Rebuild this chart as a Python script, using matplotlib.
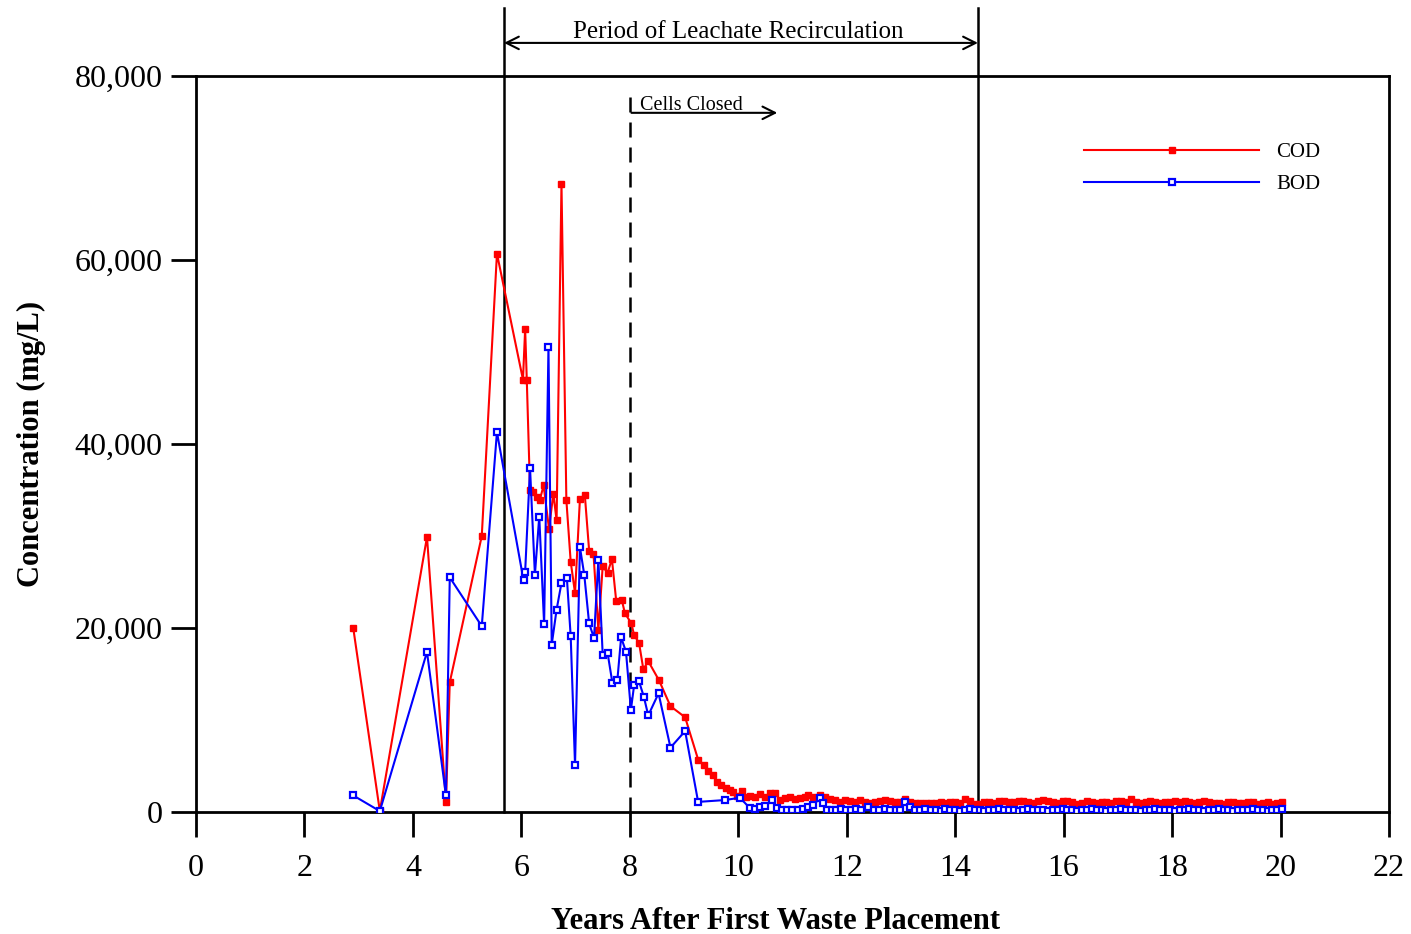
import matplotlib
matplotlib.use("Agg")
import matplotlib.pyplot as plt
from matplotlib.ticker import FuncFormatter

plt.rcParams['font.family'] = ['Liberation Serif', 'DejaVu Serif']

# ---------------- data ----------------
cod_years = [2.90, 3.39, 4.26, 4.61, 4.68, 5.27, 5.55, 6.03, 6.07, 6.10, 6.16, 6.22, 6.28, 6.34,
             6.41, 6.51, 6.59, 6.65, 6.74, 6.83, 6.91, 6.99, 7.08, 7.17, 7.25, 7.33, 7.42, 7.50,
             7.59, 7.67, 7.75, 7.85, 7.91, 8.03, 8.08, 8.17, 8.25, 8.34, 8.54, 8.75, 9.02, 9.26,
             9.36, 9.45, 9.53, 9.60, 9.69, 9.78, 9.84, 9.90, 9.98, 10.06, 10.15, 10.22, 10.31,
             10.40, 10.49, 10.58, 10.68, 10.77, 10.86, 10.95, 11.05, 11.14, 11.23, 11.29, 11.38,
             11.51, 11.60, 11.69, 11.78, 11.88, 11.97, 12.06, 12.15, 12.24, 12.34, 12.43, 12.52,
             12.61, 12.70, 12.80, 12.89, 12.98, 13.07, 13.17, 13.26, 13.35, 13.47,
             13.55, 13.64, 13.73, 13.82, 13.91, 14.00, 14.09, 14.18, 14.27, 14.36,
             14.45, 14.54, 14.63, 14.72, 14.81, 14.90, 14.99, 15.08, 15.17, 15.26,
             15.35, 15.44, 15.53, 15.62, 15.71, 15.80, 15.89, 15.98, 16.07, 16.16,
             16.25, 16.34, 16.43, 16.52, 16.61, 16.70, 16.79, 16.88, 16.97, 17.06,
             17.15, 17.24, 17.33, 17.42, 17.51, 17.60, 17.69, 17.78, 17.87, 17.96,
             18.05, 18.14, 18.23, 18.32, 18.41, 18.50, 18.59, 18.68, 18.77, 18.86,
             18.95, 19.04, 19.13, 19.22, 19.31, 19.40, 19.49, 19.58, 19.67, 19.76,
             19.85, 19.94, 20.02]
cod_values = [20000, 100, 29900, 1100, 14100, 30000, 60700, 47000, 52500, 47000, 35000, 34800,
              34200, 33900, 35500, 30800, 34600, 31700, 68300, 33900, 27200, 23800, 34000,
              34500, 28400, 28100, 19800, 26700, 26000, 27500, 22900, 23100, 21600, 20500,
              19200, 18400, 15500, 16400, 14300, 11500, 10300, 5700, 5100, 4500, 4000, 3300,
              2900, 2600, 2400, 2200, 1700, 2300, 1600, 1700, 1600, 2000, 1600, 2100, 2050,
              1300, 1500, 1650, 1400, 1500, 1600, 1850, 1650, 1850, 1600, 1400, 1300, 1100,
              1300, 1250, 1100, 1300, 1100, 950, 1100, 1250, 1300, 1250, 1100, 1100, 1450,
              1100, 1000, 950, 1000,
              1000, 950, 1050, 1000, 1100, 1050, 1000, 1400, 1150, 900,
              850, 1050, 1100, 1000, 1150, 1200, 1100, 1050, 1150, 1250,
              1100, 1000, 1200, 1300, 1150, 1100, 1000, 1200, 1250, 1100,
              900, 1000, 1150, 1050, 950, 1100, 1050, 1000, 1150, 1200,
              1050, 1450, 1100, 1000, 1050, 1150, 1100, 1000, 1050, 1100,
              1150, 1050, 1200, 1100, 1000, 1050, 1150, 1100, 950, 1000,
              900, 1050, 1100, 950, 1000, 1100, 1050, 900, 950, 1050,
              900, 1000, 1100]

bod_years = [2.90, 3.39, 4.26, 4.61, 4.68, 5.27, 5.55, 6.04, 6.07, 6.16, 6.25, 6.33, 6.42,
             6.50, 6.56, 6.65, 6.74, 6.84, 6.91, 6.99, 7.08, 7.16, 7.25, 7.34, 7.42, 7.50,
             7.59, 7.68, 7.77, 7.84, 7.93, 8.02, 8.08, 8.17, 8.26, 8.34, 8.53, 8.75, 9.02,
             9.26, 9.75, 10.03, 10.22, 10.31, 10.40, 10.49, 10.63, 10.72, 10.81, 10.90,
             11.00, 11.10, 11.20, 11.29, 11.38, 11.51, 11.57, 11.63, 11.72, 11.81, 11.90,
             11.99, 12.08, 12.17, 12.26, 12.40, 12.50, 12.60, 12.70, 12.80, 12.90, 12.98,
             13.07, 13.17, 13.26, 13.35, 13.45,
             13.55, 13.64, 13.73, 13.82, 13.91, 14.00, 14.09, 14.18, 14.27, 14.36,
             14.45, 14.54, 14.63, 14.72, 14.81, 14.90, 14.99, 15.08, 15.17, 15.26,
             15.35, 15.44, 15.53, 15.62, 15.71, 15.80, 15.89, 15.98, 16.07, 16.16,
             16.25, 16.34, 16.43, 16.52, 16.61, 16.70, 16.79, 16.88, 16.97, 17.06,
             17.15, 17.24, 17.33, 17.42, 17.51, 17.60, 17.69, 17.78, 17.87, 17.96,
             18.05, 18.14, 18.23, 18.32, 18.41, 18.50, 18.59, 18.68, 18.77, 18.86,
             18.95, 19.04, 19.13, 19.22, 19.31, 19.40, 19.49, 19.58, 19.67, 19.76,
             19.85, 19.94, 20.02]
bod_values = [1800, 100, 17400, 1800, 25500, 20200, 41300, 25200, 26100, 37400, 25800, 32100,
              20400, 50500, 18200, 22000, 24900, 25400, 19100, 5100, 28800, 25800, 20500,
              18900, 27400, 17100, 17300, 14000, 14300, 19000, 17400, 11100, 13800, 14200,
              12500, 10500, 12900, 7000, 8800, 1100, 1300, 1550, 400, 300, 550, 600, 1300,
              400, 250, 200, 250, 200, 300, 550, 750, 1500, 950, 200, 250, 200, 300, 200, 250,
              300, 200, 500, 250, 200, 300, 200, 250, 200, 1100, 500, 250, 200, 300,
              200, 250, 150, 300, 200, 250, 150, 200, 300, 250,
              200, 150, 250, 200, 300, 200, 250, 200, 150, 250,
              300, 200, 250, 200, 150, 250, 200, 300, 250, 200,
              150, 250, 200, 300, 200, 250, 150, 200, 250, 300,
              200, 250, 200, 150, 250, 200, 300, 200, 250, 200,
              150, 250, 200, 300, 250, 200, 150, 250, 200, 300,
              200, 250, 150, 200, 250, 200, 300, 250, 200, 150,
              250, 200, 300]

x_ticks = [0, 2, 4, 6, 8, 10, 12, 14, 16, 18, 20, 22]
y_ticks = [0, 20000, 40000, 60000, 80000]

recirc_start, recirc_end = 5.68, 14.42
cells_closed = 8.0

# ---------------- figure ----------------
fig = plt.figure(figsize=(14.11, 9.34), dpi=100)
ax = fig.add_axes([0.1389, 0.1306, 0.8455, 0.788])

ax.plot(cod_years, cod_values, color='#ff0000', lw=1.5, marker='s', ms=4.5,
        mfc='#ff0000', mec='#ff0000', label='COD', zorder=3)
ax.plot(bod_years, bod_values, color='#0000ff', lw=1.5, marker='s', ms=4.5,
        mfc='white', mec='#0000ff', mew=1.6, label='BOD', zorder=4)

ax.set_xlim(0, 22)
ax.set_ylim(0, 80000)
ax.set_xticks(x_ticks)
ax.set_yticks(y_ticks)
ax.yaxis.set_major_formatter(FuncFormatter(lambda v, p: f"{int(v):,}"))
ax.tick_params(axis='both', direction='out', length=18, width=2, labelsize=23)
ax.tick_params(axis='x', pad=12)
ax.tick_params(axis='y', pad=6)
ax.tick_params(top=False, right=False)
for s in ax.spines.values():
    s.set_linewidth(2)

ax.set_xlabel('Years After First Waste Placement', fontsize=22, fontweight='bold')
ax.xaxis.set_label_coords(0.486, -0.129)
ax.set_ylabel('Concentration (mg/L)', fontsize=22, fontweight='bold')
ax.yaxis.set_label_coords(-0.126, 0.5)

# recirculation period lines
for xv in (recirc_start, recirc_end):
    ax.plot([xv, xv], [0, 87400], color='black', lw=1.8, clip_on=False, zorder=2)
ax.annotate('', xy=(recirc_start, 83600), xytext=(recirc_end, 83600),
            arrowprops=dict(arrowstyle='<->,head_length=0.9,head_width=0.45', lw=1.5,
                            color='black', shrinkA=0, shrinkB=0),
            annotation_clip=False)
ax.text((recirc_start + recirc_end) / 2 - 0.05, 84150, 'Period of Leachate Recirculation',
        ha='center', va='baseline', fontsize=18, clip_on=False)

# cells closed
ax.plot([cells_closed, cells_closed], [0, 78500], color='black', lw=1.8,
        ls=(0, (6, 4)), zorder=2)
ax.annotate('', xy=(10.72, 76000), xytext=(8.03, 76000),
            arrowprops=dict(arrowstyle='->,head_length=0.9,head_width=0.45', lw=1.5,
                            color='black', shrinkA=0, shrinkB=0))
ax.text(8.19, 76350, 'Cells Closed', ha='left', va='baseline', fontsize=14.5)

leg = ax.legend(loc='upper left', bbox_to_anchor=(0.729, 0.935), frameon=False,
                handlelength=8.4, numpoints=1, fontsize=15, labelspacing=0.6,
                handletextpad=0.8)

fig.savefig('out.png', dpi=100)
